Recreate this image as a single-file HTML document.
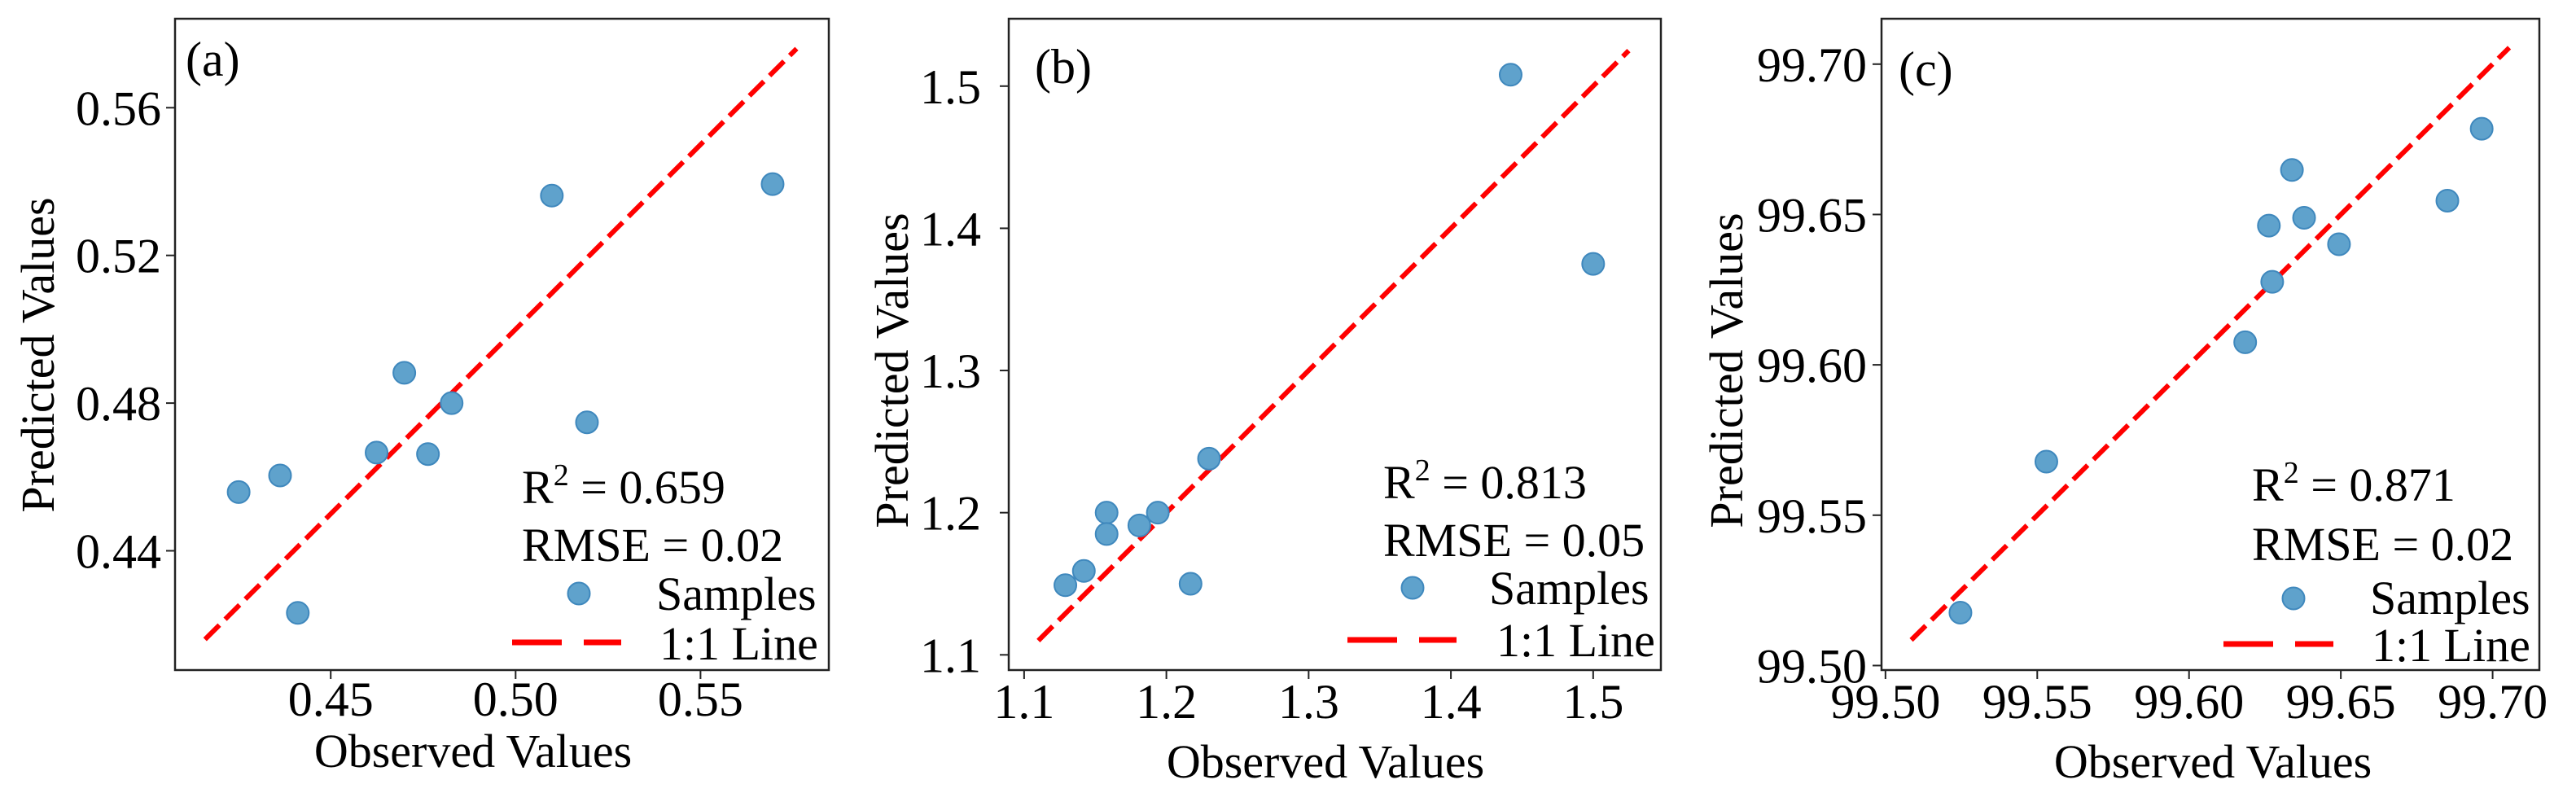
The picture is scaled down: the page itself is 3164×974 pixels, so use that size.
<!DOCTYPE html>
<html><head><meta charset="utf-8"><style>
html,body{margin:0;padding:0;background:#fff;}
svg{display:block;font-family:"Liberation Serif","Times New Roman",serif;}
</style></head><body>
<svg id="fig" width="3164" height="974" viewBox="0 0 3164 974" xmlns="http://www.w3.org/2000/svg"></svg>
<script>
// Panel (a)
const obsA = [0.4251,0.4363,0.4411,0.4624,0.4699,0.4763,0.4827,0.5098,0.5193,0.5695];
const predA = [0.4559,0.4604,0.4232,0.4666,0.4882,0.4662,0.4800,0.5362,0.4748,0.5393];
const xTicksA = [0.45,0.50,0.55];
const yTicksA = [0.44,0.48,0.52,0.56];
const xLabelsA = ["0.45","0.50","0.55"];
const yLabelsA = ["0.44","0.48","0.52","0.56"];
const lineA = [0.416,0.576];
const statsA = ["0.659","0.02"];
// Panel (b)
const obsB = [1.129,1.142,1.158,1.158,1.181,1.194,1.217,1.230,1.442,1.500];
const predB = [1.149,1.159,1.200,1.185,1.191,1.200,1.150,1.238,1.508,1.375];
const xTicksB = [1.1,1.2,1.3,1.4,1.5];
const yTicksB = [1.1,1.2,1.3,1.4,1.5];
const xLabelsB = ["1.1","1.2","1.3","1.4","1.5"];
const yLabelsB = ["1.1","1.2","1.3","1.4","1.5"];
const lineB = [1.11,1.525];
const statsB = ["0.813","0.05"];
// Panel (c)
const obsC = [99.5247,99.5530,99.6185,99.6263,99.6274,99.6339,99.6379,99.6494,99.6851,99.6964];
const predC = [99.5176,99.5678,99.6075,99.6463,99.6276,99.6648,99.6489,99.6401,99.6546,99.6785];
const xTicksC = [99.50,99.55,99.60,99.65,99.70];
const yTicksC = [99.50,99.55,99.60,99.65,99.70];
const xLabelsC = ["99.50","99.55","99.60","99.65","99.70"];
const yLabelsC = ["99.50","99.55","99.60","99.65","99.70"];
const lineC = [99.5085,99.7055];
const statsC = ["0.871","0.02"];

const NS = "http://www.w3.org/2000/svg";
const fig = document.getElementById('fig');
function mk(tag, attrs, parent){
  const e = document.createElementNS(NS, tag);
  for (const k in attrs) e.setAttribute(k, attrs[k]);
  (parent||fig).appendChild(e);
  return e;
}

const layouts = [
 {id:'a', L:215, R:1018, T:23, B:823, x0:0.4079, x1:0.5847, y0:0.4077, y1:0.5841,
  obs:obsA, pred:predA, xt:xTicksA, yt:yTicksA, xl:xLabelsA, yl:yLabelsA, line:lineA, stats:statsA,
  ylabX:66, ylabY:436, xtBase:879, xtitleX:581, xtitleBase:942, ytRight:198,
  lbl:[228,93], r2:[641,618], rmse:[641,689], mk:[711,729], samp:[806,749], ln:[629,763,789], lnt:[810,810]},
 {id:'b', L:1239, R:2040, T:23, B:823, x0:1.0892, x1:1.5476, y0:1.0893, y1:1.5474,
  obs:obsB, pred:predB, xt:xTicksB, yt:yTicksB, xl:xLabelsB, yl:yLabelsB, line:lineB, stats:statsB,
  ylabX:1115, ylabY:455, xtBase:882, xtitleX:1628, xtitleBase:955, ytRight:1205,
  lbl:[1271,102], r2:[1699,612], rmse:[1699,683], mk:[1735,722], samp:[1829,742], ln:[1655,1789,786], lnt:[1838,806]},
 {id:'c', L:2311, R:3119, T:23, B:823, x0:99.4987, x1:99.7154, y0:99.4985, y1:99.7151,
  obs:obsC, pred:predC, xt:xTicksC, yt:yTicksC, xl:xLabelsC, yl:yLabelsC, line:lineC, stats:statsC,
  ylabX:2140, ylabY:455, xtBase:882, xtitleX:2718, xtitleBase:955, ytRight:2293,
  lbl:[2332,105], r2:[2766,615], rmse:[2766,688], mk:[2817,735], samp:[2911,754], ln:[2731,2866,791], lnt:[2913,812]}
];

layouts.forEach(p => {
  const g = mk('g', {});
  
  
  const sx = v => p.L + (v - p.x0) / (p.x1 - p.x0) * (p.R - p.L);
  const sy = v => p.B - (v - p.y0) / (p.y1 - p.y0) * (p.B - p.T);

  // 1:1 line
  const ln = mk('line', {x1:sx(p.line[0]), y1:sy(p.line[0]), x2:sx(p.line[1]), y2:sy(p.line[1]),
    stroke:'#ff0000', 'stroke-width':6, 'stroke-dasharray':'25 10'}, g);
  
  

  // points
  p.obs.forEach((v, i) => {
    const c = mk('circle', {cx:sx(v), cy:sy(p.pred[i]), r:13.5, fill:'#5fa2cc', stroke:'#3f88bd', 'stroke-width':2}, g);
    
    
  });

  // frame
  const fr = mk('rect', {x:p.L, y:p.T, width:p.R-p.L, height:p.B-p.T, fill:'none', stroke:'#222', 'stroke-width':2.5}, g);
  
  

  // x ticks
  p.xt.forEach((v, i) => {
    const x = sx(v);
    mk('line', {x1:x, y1:p.B, x2:x, y2:p.B+11, stroke:'#222', 'stroke-width':2}, g);
    const t = mk('text', {x:x, y:p.xtBase, 'font-size':60, 'text-anchor':'middle', fill:'#000'}, g);
    t.textContent = p.xl[i];
    
    
  });
  // y ticks
  p.yt.forEach((v, i) => {
    const y = sy(v);
    mk('line', {x1:p.L-11, y1:y, x2:p.L, y2:y, stroke:'#222', 'stroke-width':2}, g);
    const t = mk('text', {x:p.ytRight, y:y+21, 'font-size':60, 'text-anchor':'end', fill:'#000'}, g);
    t.textContent = p.yl[i];
    
    
  });

  // axis titles
  const xt = mk('text', {x:p.xtitleX, y:p.xtitleBase, 'font-size':58, 'text-anchor':'middle', fill:'#000'}, g);
  xt.textContent = 'Observed Values';
  
  
  const yt = mk('text', {x:0, y:0, 'font-size':58, 'text-anchor':'middle', fill:'#000',
    transform:'translate(' + p.ylabX + ',' + p.ylabY + ') rotate(-90)'}, g);
  yt.textContent = 'Predicted Values';
  
  

  // panel label
  const pl = mk('text', {x:p.lbl[0], y:p.lbl[1], 'font-size':60, fill:'#000'}, g);
  pl.textContent = '(' + p.id + ')';
  
  

  // stats
  const r2 = mk('text', {x:p.r2[0], y:p.r2[1], 'font-size':58, fill:'#000'}, g);
  
  
  const t1 = mk('tspan', {}, r2); t1.textContent = 'R';
  const t2 = mk('tspan', {'font-size':38, dy:-22}, r2); t2.textContent = '2';
  const t3 = mk('tspan', {dy:22}, r2); t3.textContent = ' = ' + p.stats[0];
  const rm = mk('text', {x:p.rmse[0], y:p.rmse[1], 'font-size':58, fill:'#000'}, g);
  rm.textContent = 'RMSE = ' + p.stats[1];
  
  

  // legend
  const lg = mk('g', {}, g);
  
  
  const lm = mk('circle', {cx:p.mk[0], cy:p.mk[1], r:13.5, fill:'#5fa2cc', stroke:'#3f88bd', 'stroke-width':2}, lg);
  
  
  const ls = mk('text', {x:p.samp[0], y:p.samp[1], 'font-size':58, fill:'#000'}, lg);
  ls.textContent = 'Samples';
  
  
  const ll = mk('line', {x1:p.ln[0], y1:p.ln[2], x2:p.ln[1], y2:p.ln[2], stroke:'#ff0000', 'stroke-width':7, 'stroke-dasharray':'61 27'}, lg);
  
  
  const lt = mk('text', {x:p.lnt[0], y:p.lnt[1], 'font-size':58, fill:'#000'}, lg);
  lt.textContent = '1:1 Line';
  
  
});
</script>
</body></html>
